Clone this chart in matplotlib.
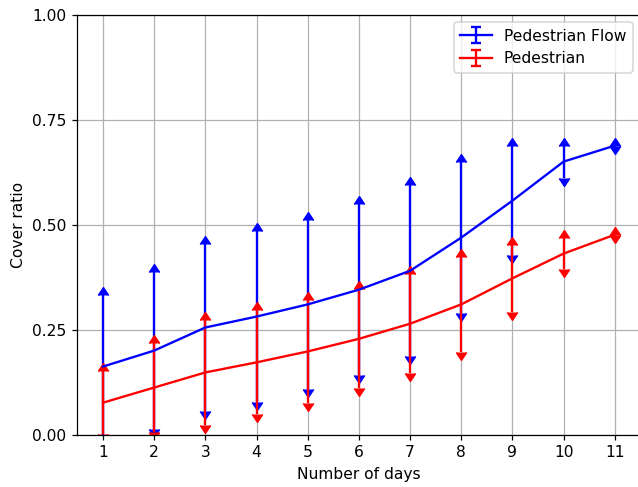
import matplotlib
matplotlib.use("Agg")
import matplotlib.pyplot as plt
from matplotlib.lines import Line2D
from matplotlib.ticker import FormatStrFormatter

# DATA ----------------------------------------------------------------------- #
days = [1, 2, 3, 4, 5, 6, 7, 8, 9, 10, 11]

flow_mean = [0.162, 0.200, 0.255, 0.281, 0.310, 0.345, 0.390, 0.469, 0.557, 0.650, 0.688]
flow_std = [0.170, 0.186, 0.200, 0.204, 0.201, 0.203, 0.204, 0.180, 0.130, 0.038, 0.0]

ped_mean = [0.076, 0.112, 0.148, 0.172, 0.198, 0.228, 0.264, 0.310, 0.372, 0.431, 0.476]
ped_std = [0.075, 0.107, 0.126, 0.124, 0.122, 0.118, 0.118, 0.114, 0.080, 0.037, 0.0]

DPI = 112

# filled arrow heads whose base sits on the limit value
ARROW_UP = [(-1, 0), (0, 1.5), (1, 0)]
ARROW_DOWN = [(-1, 0), (0, -1.5), (1, 0)]


# DEF ------------------------------------------------------------------------ #
def style_caps(caps, marker, color):
    for cap in caps:
        cap.set_marker(marker)
        cap.set_markersize(10)
        cap.set_markeredgewidth(1.0)
        cap.set_color(color)
        cap.set_markerfacecolor(color)
        cap.set_markeredgecolor(color)


def arrow_errorbar(ax, x, mean, std, color, label):
    # upper half with an up arrow, carries the line and the legend entry
    upper = ax.errorbar(x, mean, yerr=std, color=color, lolims=True, label=label)
    style_caps(upper[1], ARROW_UP, color)
    # lower half with a down arrow
    lower = ax.errorbar(x, mean, yerr=std, fmt="none", ecolor=color, uplims=True)
    style_caps(lower[1], ARROW_DOWN, color)


# PLOT ----------------------------------------------------------------------- #
fig = plt.figure(figsize=(638 / DPI, 487 / DPI), dpi=DPI)
ax = fig.add_axes([0.1213, 0.1076, 0.8824, 0.8624])

arrow_errorbar(ax, days, flow_mean, flow_std, "b", "Pedestrian Flow")
arrow_errorbar(ax, days, ped_mean, ped_std, "r", "Pedestrian")

ax.set_xlim(0.5, 11.5)
ax.set_ylim(0, 1)
ax.set_xticks(days)
ax.set_yticks([0, 0.25, 0.5, 0.75, 1.0])
ax.yaxis.set_major_formatter(FormatStrFormatter("%.2f"))
ax.grid(True)
ax.set_xlabel("Number of days")
ax.set_ylabel("Cover ratio")

leg = ax.legend(loc="upper right")
# keep the legend caps at the normal small size
for line in leg.findobj(Line2D):
    if line.get_marker() == "_":
        line.set_markersize(6)
        line.set_markeredgewidth(1.5)

fig.savefig("out.png", dpi=DPI)
